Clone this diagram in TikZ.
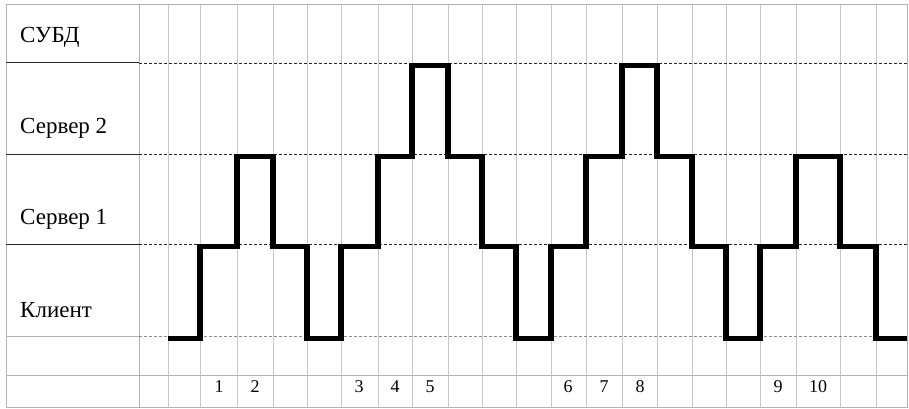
\documentclass[tikz,border=0pt]{standalone}
\usepackage{fontspec}
\setmainfont{Liberation Serif}
\tikzset{
  every picture/.style={line join=miter, line cap=butt},
  gridline/.style={draw=black!22, line width=0.8pt},
  border/.style={draw=black!30, line width=1pt},
  level/.style={draw=black!85, line width=0.9pt, dash pattern=on 3pt off 2pt},
  rowlabel/.style={anchor=base west, inner sep=0pt, font=\fontsize{23}{23}\selectfont},
  tick/.style={anchor=base, inner sep=0pt, font=\fontsize{18}{18}\selectfont},
  signal/.style={line width=5.5pt},
}

\begin{document}
\begin{tikzpicture}[x=1pt,y=-1pt]
\useasboundingbox (0,0) rectangle (909,409);
% time columns
\foreach \x in {168,200,237,273,307,341,378,412,448,482,516,551,586,622,657,692,726,760,796,840,876}
  \draw[gridline] (\x,5) -- (\x,407);
% frame
\draw[border] (6,5) rectangle (907,407);
\draw[border] (139,5) -- (139,407);
\draw[border] (6,375) -- (907,375);
% levels
\foreach \y in {63,154,244} {
  \draw[black!85, line width=1pt] (6,\y) -- (139,\y);
  \draw[level] (139,\y) -- (907,\y);
}
\draw[border] (6,336) -- (139,336);
\draw[level, draw=black!45] (139,336) -- (907,336);
% row names
\node[rowlabel] (subd) at (20,43) {СУБД};
\node[rowlabel] (srv2) at (20,133) {Сервер 2};
\node[rowlabel] (srv1) at (20,224) {Сервер 1};
\node[rowlabel] (client) at (20,317) {Клиент};
% step numbers
\foreach \x/\n in {219/1,255/2,359/3,395/4,430/5,568/6,604/7,640/8,778/9,818/10}
  \node[tick] (n\n) at (\x,392) {\n};
% request path
\draw[signal] (168,338.5) -| (200,246.5) -| (237,156.5) -| (273,246.5) -| (307,338.5)
  -| (341,246.5) -| (378,156.5) -| (412,65.5) -| (448,156.5) -| (482,246.5) -| (516,338.5)
  -| (551,246.5) -| (586,156.5) -| (622,65.5) -| (657,156.5) -| (692,246.5) -| (726,338.5)
  -| (760,246.5) -| (796,156.5) -| (840,246.5) -| (876,338.5) -- (907,338.5);
\end{tikzpicture}
\end{document}
